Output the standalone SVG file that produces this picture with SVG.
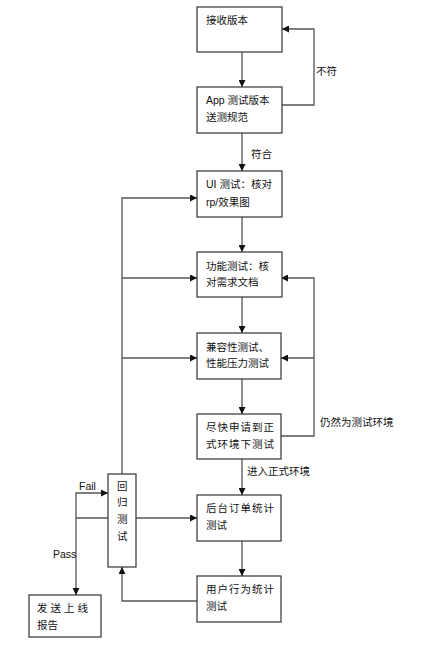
<svg xmlns="http://www.w3.org/2000/svg" width="440" height="645" viewBox="0 0 440 645">
<defs>
<marker id="ah" viewBox="0 0 10 10" refX="10" refY="5" markerWidth="7" markerHeight="7" orient="auto" markerUnits="userSpaceOnUse"><path d="M0,0 L10,5 L0,10 z" fill="#111"/></marker>
<style>
.box{fill:#fff;stroke:#333;stroke-width:1.2}
.t{font-family:"Liberation Sans","Noto Sans CJK SC",sans-serif;font-size:10.5px;fill:#111}
.l{fill:none;stroke:#555;stroke-width:1.3}
.la{fill:none;stroke:#555;stroke-width:1.3;marker-end:url(#ah)}
</style>
</defs>
<rect width="440" height="645" fill="#fff"/>
<g id="connectors">
<line class="la" x1="242" y1="52" x2="242" y2="87"/>
<polyline class="la" points="282,105 314,105 314,29 282,29"/>
<line class="la" x1="242" y1="133" x2="242" y2="171"/>
<line class="la" x1="242" y1="217" x2="242" y2="252"/>
<line class="la" x1="242" y1="297" x2="242" y2="333"/>
<line class="la" x1="242" y1="379" x2="242" y2="414"/>
<line class="la" x1="242" y1="459" x2="242" y2="495"/>
<line class="la" x1="242" y1="541" x2="242" y2="576"/>
<polyline class="la" points="281,436 314,436 314,278 281,278"/>
<line class="la" x1="314" y1="358" x2="281" y2="358"/>
<polyline class="la" points="122,474 122,198 197,198"/>
<line class="la" x1="122" y1="278" x2="197" y2="278"/>
<line class="la" x1="122" y1="358" x2="197" y2="358"/>
<line class="la" x1="136" y1="518" x2="197" y2="518"/>
<polyline class="la" points="197,601 122,601 122,567"/>
<polyline class="la" points="108,518 76,518 76,595"/>
<polyline class="la" points="76,518 76,493 108,493"/>
<text class="t" x="316" y="75">不符</text>
<text class="t" x="251" y="158">符合</text>
<text class="t" x="320" y="426">仍然为测试环境</text>
<text class="t" x="247" y="475">进入正式环境</text>
<text class="t" x="79" y="490">Fail</text>
<text class="t" x="53" y="558">Pass</text>
</g>
<g id="n1"><rect class="box" x="197" y="7" width="85" height="45"/><text class="t" x="206" y="24">接收版本</text></g>
<g id="n2"><rect class="box" x="197" y="87" width="85" height="46"/><text class="t" x="206" y="104">App 测试版本</text><text class="t" x="206" y="121">送测规范</text></g>
<g id="n3"><rect class="box" x="197" y="171" width="85" height="46"/><text class="t" x="206" y="188">UI 测试：核对</text><text class="t" x="206" y="206">rp/效果图</text></g>
<g id="n4"><rect class="box" x="197" y="252" width="85" height="45"/><text class="t" x="206" y="270">功能测试：核</text><text class="t" x="206" y="286">对需求文档</text></g>
<g id="n5"><rect class="box" x="197" y="333" width="84" height="46"/><text class="t" x="206" y="351">兼容性测试、</text><text class="t" x="206" y="367">性能压力测试</text></g>
<g id="n6"><rect class="box" x="197" y="414" width="84" height="45"/><text class="t" x="206" y="431" letter-spacing="1">尽快申请到正</text><text class="t" x="206" y="448" letter-spacing="1">式环境下测试</text></g>
<g id="n7"><rect class="box" x="197" y="495" width="84" height="46"/><text class="t" x="206" y="512" letter-spacing="1">后台订单统计</text><text class="t" x="206" y="529">测试</text></g>
<g id="n8"><rect class="box" x="197" y="576" width="84" height="46"/><text class="t" x="206" y="593" letter-spacing="1">用户行为统计</text><text class="t" x="206" y="610">测试</text></g>
<g id="n9"><rect class="box" x="108" y="474" width="28" height="93"/><text class="t" x="117" y="490">回</text><text class="t" x="117" y="506">归</text><text class="t" x="117" y="523">测</text><text class="t" x="117" y="540">试</text></g>
<g id="n10"><rect class="box" x="29" y="595" width="72" height="42"/><text class="t" x="37" y="612" letter-spacing="3">发送上线</text><text class="t" x="37" y="629">报告</text></g>
</svg>
